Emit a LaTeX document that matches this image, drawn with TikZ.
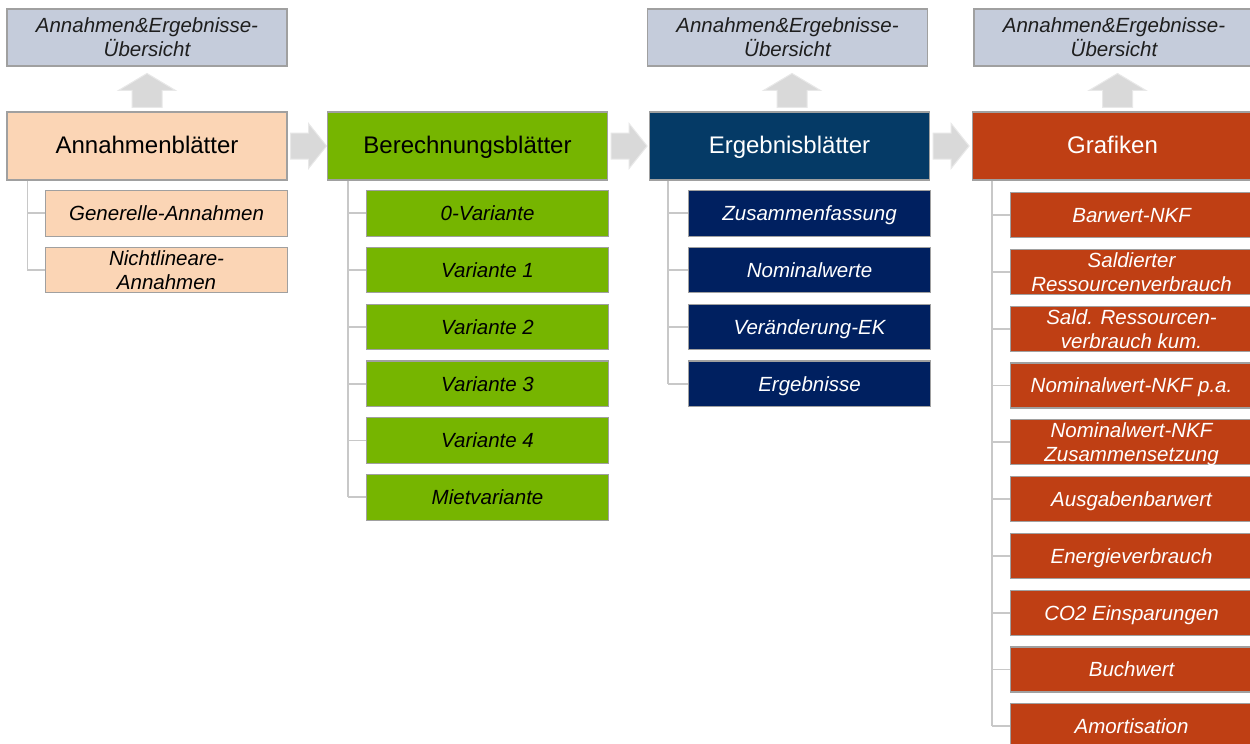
\documentclass[tikz,border=0pt]{standalone}
\usepackage{fontspec}
\setmainfont{Liberation Sans}
\usetikzlibrary{calc}
\definecolor{topfill}{HTML}{C5CCDB}
\definecolor{peach}{HTML}{FBD5B5}
\definecolor{lgreen}{HTML}{76B500}
\definecolor{dblue}{HTML}{053A66}
\definecolor{navy}{HTML}{002060}
\definecolor{rust}{HTML}{BF3F14}
\definecolor{bordergray}{HTML}{A0A0A0}
\definecolor{arrowgray}{HTML}{D9D9D9}
\definecolor{arrowedge}{HTML}{E8E8E8}
\definecolor{treegray}{HTML}{C8C8C8}
\definecolor{toptext}{HTML}{1E1E1E}
\begin{document}
\begin{tikzpicture}[x=1pt,y=-1pt,
  box/.style={draw=bordergray, line width=1.1pt, rectangle, inner sep=0pt, align=center},
  topbox/.style={box, fill=topfill, minimum width=280pt, minimum height=57pt,
    font=\fontsize{20.5}{24}\selectfont\itshape, text=toptext, text depth=0pt},
  mainbox/.style={box, minimum width=280pt, minimum height=68pt,
    font=\fontsize{24}{28}\selectfont, text height=18pt, text depth=4pt},
  subbox/.style={box, anchor=north west, minimum width=242pt, minimum height=45.5pt,
    font=\fontsize{20.5}{24}\selectfont\itshape, text depth=0pt},
  blockarrow/.style={fill=arrowgray, draw=arrowedge, line width=1pt},
  treeline/.style={draw=treegray, line width=1.8pt},
]
\clip (0,0) rectangle (1250,744);
\fill[white] (0,0) rectangle (1250,744);

% top boxes
\node[topbox] (t1) at (147,37.5) {Annahmen\&Ergebnisse-\\Übersicht};
\node[topbox] (t2) at (787.5,37.5) {Annahmen\&Ergebnisse-\\Übersicht};
\node[topbox] (t3) at (1114,37.5) {Annahmen\&Ergebnisse-\\Übersicht};

% main boxes
\node[mainbox, fill=peach, text=black] (A) at (147,146) {Annahmenblätter};
\node[mainbox, fill=lgreen, text=black] (B) at (467.5,146) {Berechnungsblätter};
\node[mainbox, fill=dblue, text=white] (C) at (789.5,146) {Ergebnisblätter};
\node[mainbox, fill=rust, text=white] (D) at (1112.5,146) {Grafiken};

% children A
\foreach \t [count=\i] in {Generelle-Annahmen, {Nichtlineare-\\Annahmen}}
  \node[subbox, fill=peach, text=black] (a\i) at (45,{190+(\i-1)*56.8}) {\t};
% children B
\foreach \t [count=\i] in {0-Variante, Variante 1, Variante 2, Variante 3, Variante 4, Mietvariante}
  \node[subbox, fill=lgreen, text=black] (b\i) at (366,{190+(\i-1)*56.8}) {\t};
% children C
\foreach \t [count=\i] in {Zusammenfassung, Nominalwerte, Veränderung-EK, Ergebnisse}
  \node[subbox, fill=navy, text=white] (c\i) at (688,{190+(\i-1)*56.8}) {\t};
% children D
\foreach \t [count=\i] in {Barwert-NKF, {Saldierter\\Ressourcenverbrauch}, {Sald. Ressourcen-\\verbrauch kum.},
    Nominalwert-NKF p.a., {Nominalwert-NKF\\Zusammensetzung}, Ausgabenbarwert, Energieverbrauch,
    CO2 Einsparungen, Buchwert, Amortisation}
  \node[subbox, fill=rust, text=white, minimum height=45pt] (d\i) at (1010,{192+(\i-1)*56.8}) {\t};

% tree lines
\coordinate (Atr) at ($(A.south west)+(21,0)$);
\coordinate (Btr) at ($(B.south west)+(21,0)$);
\coordinate (Ctr) at ($(C.south west)+(19,0)$);
\coordinate (Dtr) at ($(D.south west)+(20,0)$);
\draw[treeline] (Atr) -- (Atr |- a2.west);
\foreach \i in {1,2} \draw[treeline] (Atr |- a\i.west) -- (a\i.west);
\draw[treeline] (Btr) -- (Btr |- b6.west);
\foreach \i in {1,...,6} \draw[treeline] (Btr |- b\i.west) -- (b\i.west);
\draw[treeline] (Ctr) -- (Ctr |- c4.west);
\foreach \i in {1,...,4} \draw[treeline] (Ctr |- c\i.west) -- (c\i.west);
\draw[treeline] (Dtr) -- (Dtr |- d10.west);
\foreach \i in {1,...,10} \draw[treeline] (Dtr |- d\i.west) -- (d\i.west);

% right block arrows
\foreach \s/\e in {A/B, B/C, C/D}{
  \coordinate (p) at ($(\s.east)+(3,0)$);
  \draw[blockarrow, shift={(p)}] (0,-13) -- (18,-13) -- (18,-22.5) -- (36,0) -- (18,22.5) -- (18,13) -- (0,13) -- cycle;
}
% up block arrows
\foreach \s/\dx in {A/0, C/2.5, D/5}{
  \coordinate (q) at ($(\s.north)+(\dx,-4)$);
  \draw[blockarrow, shift={(q)}] (-15,0) -- (-15,-17) -- (-28.5,-17) -- (0,-34) -- (28.5,-17) -- (15,-17) -- (15,0) -- cycle;
}
\end{tikzpicture}
\end{document}
